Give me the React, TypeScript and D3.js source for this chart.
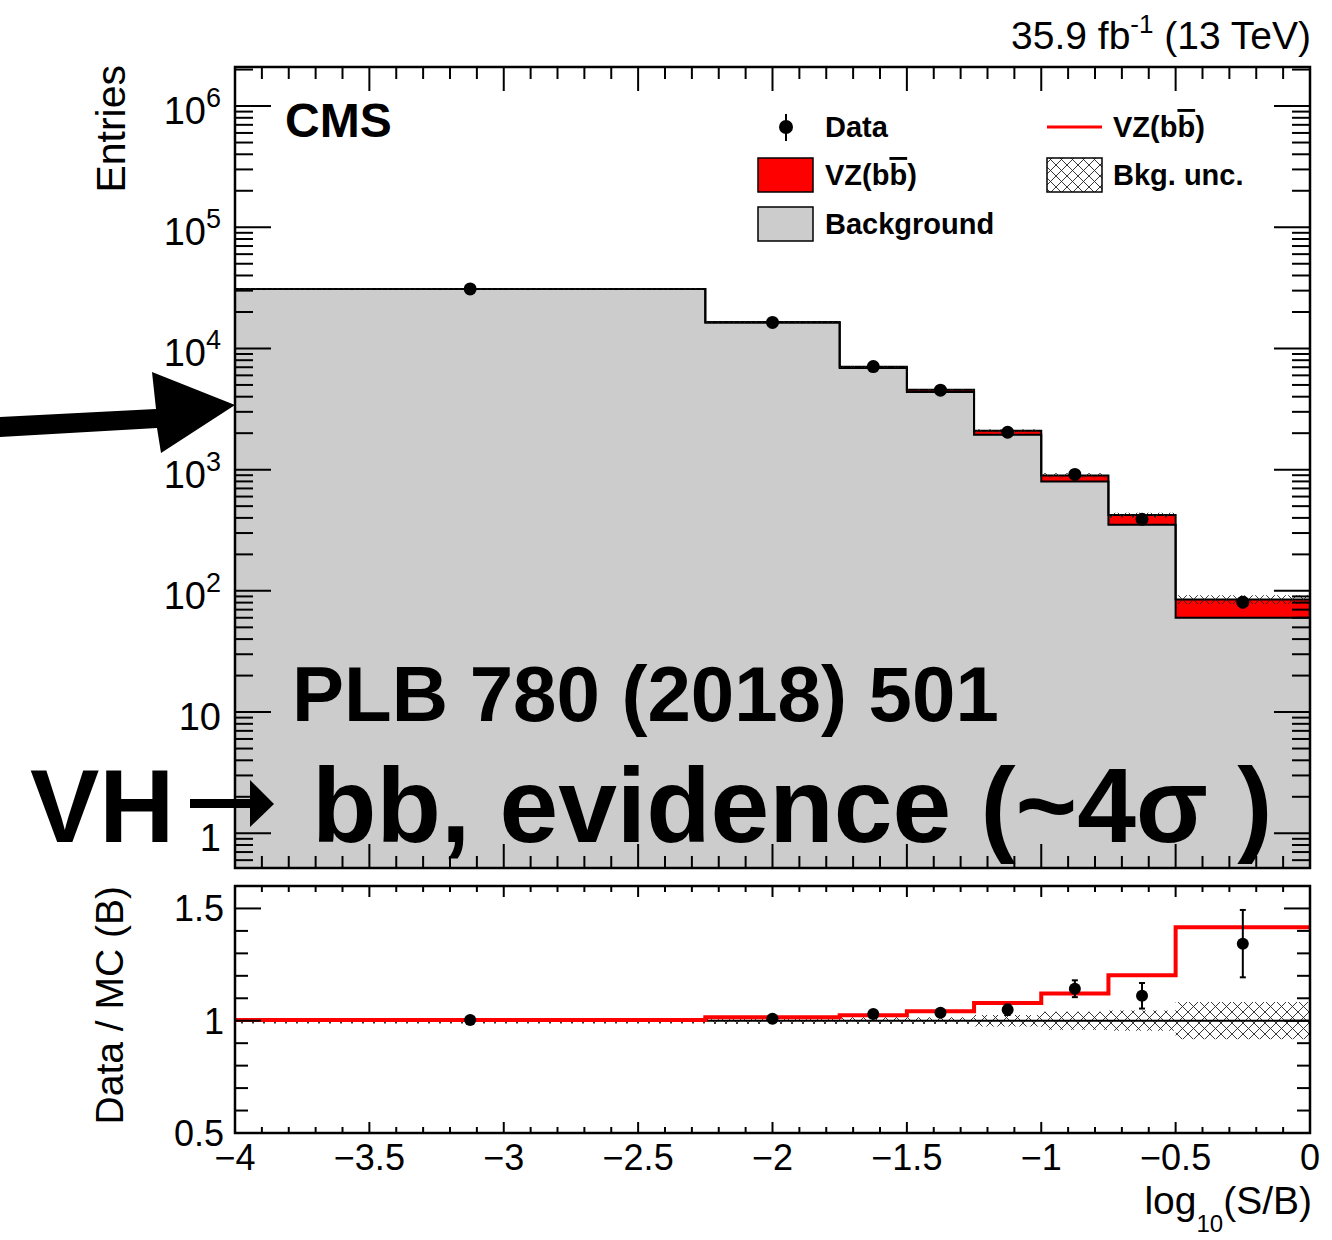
import React from 'react';
import * as d3 from 'd3';

// ---- data ----
const binEdges = [-4, -2.25, -1.75, -1.5, -1.25, -1, -0.75, -0.5, 0];
const background = [30900, 16260, 6885, 4376, 1940, 800, 351, 60];
const vzSignal = [93, 244, 165, 184, 153, 97, 71, 25];
const dataCounts = [31000, 16400, 7090, 4530, 2035, 914, 390, 80.6];
const dataErrors = [176, 128, 84, 67, 45, 30, 20, 9];
const bkgRelUnc = [0.012, 0.015, 0.015, 0.015, 0.026, 0.04, 0.045, 0.083];

const xTickLabels = ['\u22124', '\u22123.5', '\u22123', '\u22122.5', '\u22122', '\u22121.5', '\u22121', '\u22120.5', '0'];
const xTickValues = [-4, -3.5, -3, -2.5, -2, -1.5, -1, -0.5, 0];
const ratioTickValues = [0.5, 1, 1.5];
const ratioTickLabels = ['0.5', '1', '1.5'];

const FONT = "'Liberation Sans', Arial, Helvetica, sans-serif";

export default function App() {
  const W = 1332, H = 1240;
  const L = 235, R = 1310;
  const UT = 67, UB = 868;
  const RT = 886, RB = 1133;

  const x = d3.scaleLinear().domain([-4, 0]).range([L, R]);
  const yU = d3.scaleLog().domain([0.517, 2.1e6]).range([UB, UT]);
  const yR = d3.scaleLinear().domain([0.5, 1.6]).range([RB, RT]);

  const n = background.length;
  const total = background.map((b, i) => b + vzSignal[i]);
  const centers = background.map((_, i) => (binEdges[i] + binEdges[i + 1]) / 2);

  type P = { x: number; lo: number; hi: number };
  const stepPts = (lo: number[], hi: number[]): P[] => [
    ...lo.map((v, i) => ({ x: binEdges[i], lo: v, hi: hi[i] })),
    { x: binEdges[n], lo: lo[n - 1], hi: hi[n - 1] },
  ];
  const areaGen = (ys: any) =>
    d3.area<P>().x(d => x(d.x)).y0(d => ys(d.lo)).y1(d => ys(d.hi)).curve(d3.curveStepAfter);
  const lineGen = (ys: any) =>
    d3.line<P>().x(d => x(d.x)).y(d => ys(d.hi)).curve(d3.curveStepAfter);

  const yMin = yU.domain()[0];
  const bottomArr = background.map(() => yMin);

  const greyArea = areaGen(yU)(stepPts(bottomArr, background)) || '';
  const redArea = areaGen(yU)(stepPts(background, total)) || '';
  const bkgLine = lineGen(yU)(stepPts(background, background)) || '';
  const totLine = lineGen(yU)(stepPts(total, total)) || '';
  const hatchU = areaGen(yU)(stepPts(total.map((t, i) => t * (1 - bkgRelUnc[i])), total.map((t, i) => t * (1 + bkgRelUnc[i])))) || '';

  const ratioSig = total.map((t, i) => t / background[i]);
  const ratioData = dataCounts.map((d, i) => d / background[i]);
  const ratioErr = dataErrors.map((e, i) => e / background[i]);
  const hatchR = areaGen(yR)(stepPts(bkgRelUnc.map(u => 1 - u), bkgRelUnc.map(u => 1 + u))) || '';
  const redRatioLine = lineGen(yR)(stepPts(ratioSig, ratioSig)) || '';

  // ticks
  const xMinor = d3.range(0, 41).map(i => -4 + i * 0.1);
  const logTicks: { v: number; major: boolean }[] = [];
  for (let e = -1; e <= 6; e++) {
    for (let m = 1; m <= 9; m++) {
      const v = m * Math.pow(10, e);
      if (v >= yU.domain()[0] && v <= yU.domain()[1]) logTicks.push({ v, major: m === 1 });
    }
  }
  const rTicks = d3.range(0, 12).map(i => ({ v: 0.5 + i * 0.1, major: i % 5 === 0 }));

  const isMajorX = (v: number) => Math.abs(v * 2 - Math.round(v * 2)) < 1e-6;

  const tickStroke = { stroke: '#000', strokeWidth: 2 };

  return (
    <svg width={W} height={H} style={{ position: 'absolute', left: 0, top: 0, display: 'block', background: '#fff' }} fontFamily={FONT}>
      <defs>
        <pattern id="hatch" patternUnits="userSpaceOnUse" width="11" height="11">
          <path d="M0,0 L11,11 M11,0 L0,11" stroke="#222" strokeWidth="0.9" fill="none" />
        </pattern>
        <clipPath id="clipU"><rect x={L} y={UT} width={R - L} height={UB - UT} /></clipPath>
        <clipPath id="clipR"><rect x={L} y={RT} width={R - L} height={RB - RT} /></clipPath>
      </defs>
      <rect x={0} y={0} width={W} height={H} fill="#fff" />

      {/* ---------- upper panel ---------- */}
      <g clipPath="url(#clipU)">
        <path d={greyArea} fill="#cccccc" />
        <path d={redArea} fill="#ff0000" />
        <path d={bkgLine} fill="none" stroke="#000" strokeWidth={2} />
        <path d={totLine} fill="none" stroke="#000" strokeWidth={2} />
        <path d={hatchU} fill="url(#hatch)" />
        {centers.map((c, i) => (
          <g key={i}>
            <line x1={x(c)} x2={x(c)} y1={yU(dataCounts[i] + dataErrors[i])} y2={yU(dataCounts[i] - dataErrors[i])} stroke="#000" strokeWidth={2} />
            <circle cx={x(c)} cy={yU(dataCounts[i])} r={6.5} fill="#000" />
          </g>
        ))}
      </g>
      {/* upper axes ticks */}
      {logTicks.map((t, i) => {
        const len = t.major ? 36 : 18;
        const yy = yU(t.v);
        return (
          <g key={'lt' + i}>
            <line x1={L} x2={L + len} y1={yy} y2={yy} {...tickStroke} />
            <line x1={R} x2={R - len} y1={yy} y2={yy} {...tickStroke} />
          </g>
        );
      })}
      {xMinor.map((v, i) => {
        const len = isMajorX(v) ? 24 : 12;
        const xx = x(v);
        return (
          <g key={'xt' + i}>
            <line x1={xx} x2={xx} y1={UB} y2={UB - len} {...tickStroke} />
            <line x1={xx} x2={xx} y1={UT} y2={UT + len} {...tickStroke} />
          </g>
        );
      })}
      <rect x={L} y={UT} width={R - L} height={UB - UT} fill="none" stroke="#000" strokeWidth={2.5} />

      {/* y labels upper */}
      {d3.range(0, 7).map(e => {
        const yy = yU(Math.pow(10, e)) + 18;
        if (e === 0) return <text key={e} x={221} y={yy} textAnchor="end" fontSize={38}>1</text>;
        if (e === 1) return <text key={e} x={221} y={yy} textAnchor="end" fontSize={38}>10</text>;
        return (
          <text key={e} x={221} y={yy} textAnchor="end" fontSize={38}>
            10<tspan dy={-17} fontSize={27}>{e}</tspan>
          </text>
        );
      })}
      <text transform="translate(125,65) rotate(-90)" textAnchor="end" fontSize={41}>Entries</text>

      {/* header texts */}
      <text x={1311} y={49} textAnchor="end" fontSize={39}>
        35.9 fb<tspan dy={-16} fontSize={26}>-1</tspan><tspan dy={16} fontSize={39}> (13 TeV)</tspan>
      </text>
      <text x={285} y={137} fontSize={48} fontWeight="bold">CMS</text>

      {/* legend */}
      <g fontWeight="bold" fontSize={29}>
        <line x1={786} x2={786} y1={114} y2={141} stroke="#000" strokeWidth={2} />
        <circle cx={786} cy={127} r={7} fill="#000" />
        <text x={825} y={137}>Data</text>

        <rect x={758} y={158} width={55} height={34} fill="#ff0000" stroke="#000" strokeWidth={1.5} />
        <text x={825} y={185}>VZ(b<tspan style={{ textDecoration: 'overline' }}>b</tspan>)</text>

        <rect x={758} y={207} width={55} height={34} fill="#cccccc" stroke="#000" strokeWidth={1.5} />
        <text x={825} y={234}>Background</text>

        <line x1={1047} x2={1102} y1={127} y2={127} stroke="#ff0000" strokeWidth={3} />
        <text x={1113} y={137}>VZ(b<tspan style={{ textDecoration: 'overline' }}>b</tspan>)</text>

        <rect x={1047} y={158} width={55} height={34} fill="url(#hatch)" stroke="#000" strokeWidth={1.5} />
        <text x={1113} y={185}>Bkg. unc.</text>
      </g>

      {/* ---------- ratio panel ---------- */}
      <g clipPath="url(#clipR)">
        <path d={hatchR} fill="url(#hatch)" />
        <line x1={L} x2={R} y1={yR(1)} y2={yR(1)} stroke="#000" strokeWidth={2} />
        <path d={redRatioLine} fill="none" stroke="#ff0000" strokeWidth={4} />
        {centers.map((c, i) => {
          const xx = x(c);
          const y1 = yR(ratioData[i] + ratioErr[i]);
          const y2 = yR(ratioData[i] - ratioErr[i]);
          return (
            <g key={'rd' + i}>
              <line x1={xx} x2={xx} y1={y1} y2={y2} stroke="#000" strokeWidth={2} />
              <line x1={xx - 3} x2={xx + 3} y1={y1} y2={y1} stroke="#000" strokeWidth={2} />
              <line x1={xx - 3} x2={xx + 3} y1={y2} y2={y2} stroke="#000" strokeWidth={2} />
              <circle cx={xx} cy={yR(ratioData[i])} r={6} fill="#000" />
            </g>
          );
        })}
      </g>
      {rTicks.map((t, i) => {
        const len = t.major ? 26 : 13;
        const yy = yR(t.v);
        return (
          <g key={'rt' + i}>
            <line x1={L} x2={L + len} y1={yy} y2={yy} {...tickStroke} />
            <line x1={R} x2={R - len} y1={yy} y2={yy} {...tickStroke} />
          </g>
        );
      })}
      {xMinor.map((v, i) => {
        const len = isMajorX(v) ? 11 : 6;
        const xx = x(v);
        return (
          <g key={'rxt' + i}>
            <line x1={xx} x2={xx} y1={RB} y2={RB - len} {...tickStroke} />
            <line x1={xx} x2={xx} y1={RT} y2={RT + len} {...tickStroke} />
          </g>
        );
      })}
      <rect x={L} y={RT} width={R - L} height={RB - RT} fill="none" stroke="#000" strokeWidth={2.5} />

      {ratioTickValues.map((v, i) => (
        <text key={'rl' + i} x={224} y={yR(v) + 13} textAnchor="end" fontSize={36}>{ratioTickLabels[i]}</text>
      ))}
      <text transform="translate(123,886) rotate(-90)" textAnchor="end" fontSize={39}>Data / MC (B)</text>

      {xTickValues.map((v, i) => (
        <text key={'xl' + i} x={x(v)} y={1170} textAnchor="middle" fontSize={36}>{xTickLabels[i]}</text>
      ))}
      <text x={1312} y={1214} textAnchor="end" fontSize={39}>
        log<tspan dy={18} fontSize={24}>10</tspan><tspan dy={-18} fontSize={39}>(S/B)</tspan>
      </text>

      {/* ---------- annotations ---------- */}
      <text x={292} y={721} fontSize={78} fontWeight="bold">PLB 780 (2018) 501</text>
      <text x={30} y={842} fontSize={104} fontWeight="bold">VH</text>
      <path d="M190,799 L250,799 L250,780 L274,804 L250,827 L250,808 L190,808 Z" fill="#000" />
      <text x={312} y={842} fontSize={105.5} fontWeight="bold">bb, evidence (~4σ )</text>
      <polygon points="0,417 156,409 152,372 235,405 161,453 157,428 0,437" fill="#000" />
    </svg>
  );
}
